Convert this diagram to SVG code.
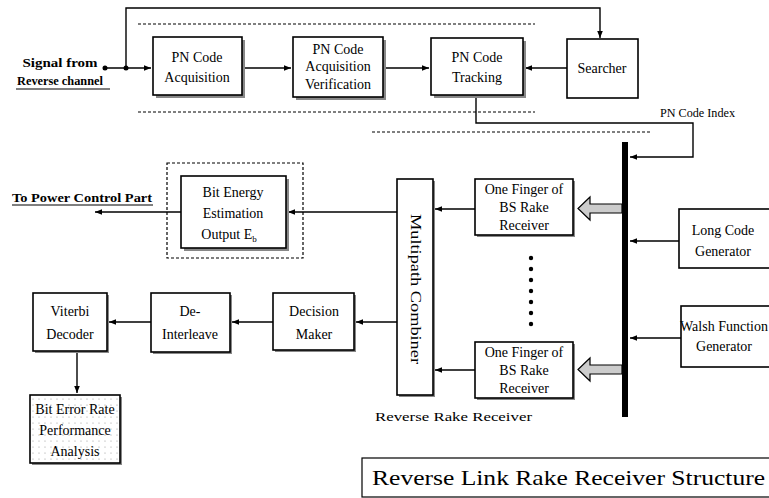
<svg xmlns="http://www.w3.org/2000/svg" width="769" height="498" viewBox="0 0 769 498">
<defs>
<marker id="ah" viewBox="0 0 10 10" refX="10" refY="5" markerWidth="7" markerHeight="7" markerUnits="userSpaceOnUse" orient="auto"><path d="M0,1 L10,5 L0,9 Z" fill="#000"/></marker>
<pattern id="dots" width="6" height="6" patternUnits="userSpaceOnUse"><rect width="6" height="6" fill="#fff"/><circle cx="3" cy="3" r="0.6" fill="#999"/></pattern>
</defs>
<style>
text{font-family:"Liberation Serif","Times New Roman",serif;fill:#000}
.t{font-size:14px;text-anchor:middle}
.b{fill:#fff;stroke:#000;stroke-width:1.6}
.sh{fill:#888;stroke:none}
.ln{fill:none;stroke:#000;stroke-width:1.4}
.dash{fill:none;stroke:#000;stroke-width:1.2;stroke-dasharray:3,2}
.bold{font-weight:bold;font-size:12px}
</style>
<rect width="769" height="498" fill="#fff"/>

<g id="connectors">
<path class="ln" d="M105,68 L151,68" marker-end="url(#ah)"/>
<path class="ln" d="M126,68 L126,8 L600,8 L600,38" marker-end="url(#ah)"/>
<path class="ln" d="M242,68 L291,68" marker-end="url(#ah)"/>
<path class="ln" d="M383,68 L429,68" marker-end="url(#ah)"/>
<path class="ln" d="M567,68 L525,68" marker-end="url(#ah)"/>
<path class="ln" d="M476,95 L476,123 L693,123 L693,157 L630,157" marker-end="url(#ah)"/>
<path class="ln" d="M679,241 L630,241" marker-end="url(#ah)"/>
<path class="ln" d="M681,338 L630,338" marker-end="url(#ah)"/>
<path class="ln" d="M475,209 L435,209" marker-end="url(#ah)"/>
<path class="ln" d="M475,370 L435,370" marker-end="url(#ah)"/>
<path class="ln" d="M397,212 L288,212" marker-end="url(#ah)"/>
<path class="ln" d="M181,212 L95,212" marker-end="url(#ah)"/>
<path class="ln" d="M397,322 L356,322" marker-end="url(#ah)"/>
<path class="ln" d="M273,322 L232,322" marker-end="url(#ah)"/>
<path class="ln" d="M151,322 L109,322" marker-end="url(#ah)"/>
<path class="ln" d="M77,351 L77,393" marker-end="url(#ah)"/>
<path d="M622,204 L590,204 L590,197 L578,208.5 L590,220 L590,213 L622,213 Z" fill="#ccc" stroke="#000" stroke-width="1.2"/>
<path d="M622,365 L590,365 L590,358 L578,369.5 L590,381 L590,374 L622,374 Z" fill="#ccc" stroke="#000" stroke-width="1.2"/>
</g>

<g id="decor">
<line class="dash" x1="138" y1="24" x2="535" y2="24"/>
<line class="dash" x1="138" y1="112" x2="535" y2="112"/>
<line class="dash" x1="372" y1="132" x2="650" y2="132"/>
<rect class="dash" x="167" y="163" width="136" height="95"/>
<rect x="622" y="142" width="6" height="275" fill="#000"/>
<circle cx="105" cy="68" r="2.5" fill="#000"/>
<circle cx="126" cy="68" r="2.5" fill="#000"/>
<g fill="#000">
<circle cx="531" cy="258" r="2.2"/><circle cx="531" cy="269" r="2.2"/><circle cx="531" cy="280" r="2.2"/><circle cx="531" cy="291" r="2.2"/><circle cx="531" cy="302" r="2.2"/><circle cx="531" cy="313" r="2.2"/><circle cx="531" cy="324" r="2.2"/>
</g>
</g>

<g id="signal">
<text class="bold" x="60" y="67" text-anchor="middle" textLength="75" lengthAdjust="spacingAndGlyphs">Signal from</text>
<text class="bold" x="60" y="85" text-anchor="middle" textLength="86" lengthAdjust="spacingAndGlyphs">Reverse channel</text>
<line x1="16" y1="89" x2="110" y2="89" stroke="#000" stroke-width="1.2"/>
</g>

<g id="power">
<text class="bold" x="82" y="202" text-anchor="middle" textLength="140" lengthAdjust="spacingAndGlyphs">To Power Control Part</text>
<line x1="12" y1="205" x2="153" y2="205" stroke="#000" stroke-width="1.2"/>
</g>

<g id="acq">
<rect class="sh" x="156" y="40" width="89" height="58"/>
<rect class="b" x="153" y="37" width="89" height="58"/>
<text class="t" x="197" y="62">PN  Code</text>
<text class="t" x="197" y="82">Acquisition</text>
</g>
<g id="verif">
<rect class="sh" x="296" y="40" width="90" height="60"/>
<rect class="b" x="293" y="37" width="90" height="60"/>
<text class="t" x="338" y="54">PN Code</text>
<text class="t" x="338" y="71">Acquisition</text>
<text class="t" x="338" y="89">Verification</text>
</g>
<g id="track">
<rect class="sh" x="434" y="41" width="92" height="57"/>
<rect class="b" x="431" y="38" width="92" height="57"/>
<text class="t" x="477" y="62">PN Code</text>
<text class="t" x="477" y="82">Tracking</text>
</g>
<g id="searcher">
<rect class="b" x="567" y="39" width="71" height="59"/>
<text class="t" x="602" y="73">Searcher</text>
</g>
<text x="660" y="117" font-size="12" textLength="75" lengthAdjust="spacingAndGlyphs">PN Code Index</text>

<g id="bitenergy">
<rect class="sh" x="184" y="179" width="105" height="72"/>
<rect class="b" x="181" y="176" width="105" height="72"/>
<text class="t" x="233" y="197">Bit Energy</text>
<text class="t" x="233" y="218">Estimation</text>
<text class="t" x="229" y="239">Output E<tspan font-size="9" dy="3">b</tspan></text>
</g>

<g id="combiner">
<rect class="sh" x="399" y="181" width="36" height="216"/>
<rect class="b" x="397" y="179" width="36" height="216"/>
<text class="t" transform="translate(411,289) rotate(90)" font-size="15" textLength="150" lengthAdjust="spacingAndGlyphs">Multipath Combiner</text>
</g>

<g id="finger1">
<rect class="sh" x="477" y="181" width="98" height="56"/>
<rect class="b" x="475" y="179" width="98" height="56"/>
<text class="t" x="524" y="194" font-size="13">One Finger of</text>
<text class="t" x="524" y="212" font-size="13">BS Rake</text>
<text class="t" x="524" y="230" font-size="13">Receiver</text>
</g>
<g id="finger2">
<rect class="sh" x="477" y="344" width="98" height="56"/>
<rect class="b" x="475" y="342" width="98" height="56"/>
<text class="t" x="524" y="357" font-size="13">One Finger of</text>
<text class="t" x="524" y="375" font-size="13">BS Rake</text>
<text class="t" x="524" y="393" font-size="13">Receiver</text>
</g>

<g id="longcode">
<rect class="b" x="679" y="209" width="95" height="59"/>
<text class="t" x="723" y="235">Long  Code</text>
<text class="t" x="723" y="256">Generator</text>
</g>
<g id="walsh">
<rect class="b" x="681" y="306" width="95" height="61"/>
<text class="t" x="724" y="331">Walsh Function</text>
<text class="t" x="724" y="351">Generator</text>
</g>

<g id="decision">
<rect class="sh" x="275" y="295" width="81" height="57"/>
<rect class="b" x="273" y="293" width="81" height="57"/>
<text class="t" x="314" y="316">Decision</text>
<text class="t" x="314" y="339">Maker</text>
</g>
<g id="deinter">
<rect class="sh" x="153" y="295" width="79" height="59"/>
<rect class="b" x="151" y="293" width="79" height="59"/>
<text class="t" x="190" y="316">De-</text>
<text class="t" x="190" y="339">Interleave</text>
</g>
<g id="viterbi">
<rect class="sh" x="35" y="295" width="74" height="58"/>
<rect class="b" x="33" y="293" width="74" height="58"/>
<text class="t" x="70" y="316">Viterbi</text>
<text class="t" x="70" y="339">Decoder</text>
</g>
<g id="ber">
<rect class="sh" x="32" y="397" width="90" height="68"/>
<rect x="30" y="395" width="90" height="68" fill="url(#dots)" stroke="#000" stroke-width="1.6"/>
<text class="t" x="75" y="414">Bit Error Rate</text>
<text class="t" x="75" y="435">Performance</text>
<text class="t" x="75" y="456">Analysis</text>
</g>

<text x="375" y="421" font-size="13" textLength="157" lengthAdjust="spacingAndGlyphs">Reverse Rake Receiver</text>

<g id="title">
<rect x="362" y="458" width="412" height="39" fill="#fff" stroke="#000" stroke-width="1.2"/>
<text x="372" y="485" font-size="22" textLength="393" lengthAdjust="spacingAndGlyphs">Reverse Link Rake Receiver Structure</text>
</g>
</svg>
